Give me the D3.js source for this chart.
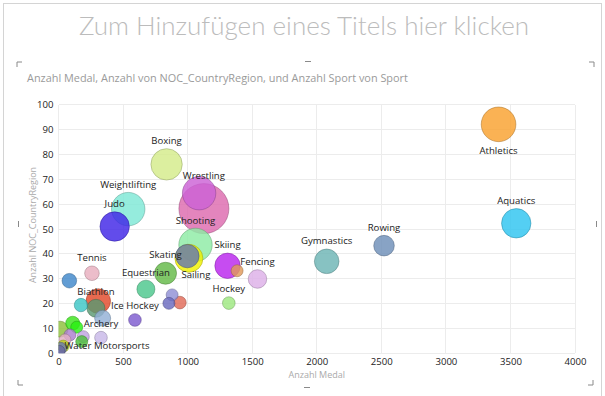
<!DOCTYPE html>
<html>
<head>
<meta charset="utf-8">
<script src="https://cdn.jsdelivr.net/npm/d3@7"></script>
<style>
  body { margin: 0; background: #fff; }
  svg { font-family: "Segoe UI", "Open Sans", "Noto Sans", sans-serif; }
</style>
</head>
<body>
<svg id="chart" width="605" height="396"></svg>
<script>
const SIZE = { width: 605, height: 396 };
const PLOT = { left: 58.5, right: 575, top: 104.7, bottom: 353.3 };

// one entry per sport
const sports = [
  "Athletics", "Aquatics", "Rowing", "Gymnastics", "Boxing", "Cycling", "Wrestling",
  "Weightlifting", "Judo", "Shooting", "Canoe / Kayak", "Sailing", "Skiing",
  "Modern Pentathlon", "Fencing", "Hockey", "Equestrian", "Skating", "Tennis",
  "Football", "Basketball", "Biathlon", "Bobsleigh", "Ice Hockey", "Volleyball",
  "Archery", "Table Tennis", "Badminton", "Luge", "Taekwondo", "Triathlon",
  "Snowboard", "Curling", "Baseball", "Softball", "Rugby", "Polo", "Tug of War",
  "Water Motorsports"
];
const medals = [
  3408, 3545, 2521, 2077, 837, 1089, 1126,
  540, 435, 1061, 998, 1010, 1309,
  1383, 1541, 1319, 677, 829, 259,
  84, 308, 290, 174, 592, 342,
  329, 880, 855, 940, 12, 110,
  141, 89, 50, 192, 180, 37, 17,
  4
];
const countries = [
  92.1, 52.3, 43.3, 37, 76, 64.4, 58.2,
  58, 51, 43.6, 39.1, 38.2, 35.2,
  33.2, 29.9, 20.2, 25.8, 32.2, 32.2,
  29.2, 21, 18.1, 19.4, 13.4, 14.1,
  6.3, 23.5, 20.1, 20.4, 9.7, 12.1,
  10.5, 7.4, 5.4, 6.7, 4.7, 2.9, 2,
  0.8
];
const sportCount = [
  300, 216, 106, 151, 246, 279, 625,
  279, 216, 279, 137, 196, 161,
  36, 86, 40, 81, 121, 53,
  53, 151, 81, 45, 40, 64,
  40, 36, 36, 40, 64, 49,
  36, 36, 36, 36, 36, 36, 36,
  36
];
const xTicks = [0, 500, 1000, 1500, 2000, 2500, 3000, 3500, 4000];
const yTicks = [0, 10, 20, 30, 40, 50, 60, 70, 80, 90, 100];
const labelled = [
  "Athletics", "Aquatics", "Rowing", "Gymnastics", "Boxing", "Wrestling",
  "Weightlifting", "Judo", "Shooting", "Sailing", "Skiing", "Fencing", "Hockey",
  "Equestrian", "Skating", "Tennis", "Biathlon", "Ice Hockey", "Archery",
  "Water Motorsports"
];

const palette = [
  "#f9a12e", "#2ec4f0", "#6e8fb8", "#6db5b5", "#d4ec8a", "#cc62d6", "#dd6aae",
  "#7ee8d6", "#3f25e6", "#8deba5", "#6677b0", "#f0f000", "#ba25ee",
  "#e09a5a", "#ddb0e8", "#9de880", "#4cc78c", "#64ba48", "#e8aebe",
  "#3f87ca", "#e2492a", "#5a9872", "#3cc6c6", "#7e5cd0", "#92b0d6",
  "#c8b8e8", "#9090d6", "#6a6abe", "#e06a58", "#8ec03c", "#3ce41c",
  "#2af012", "#ac7ed0", "#e2aec2", "#bea2e0", "#4cc03a", "#bcd01a", "#6a7aae",
  "#6a6aa0"
];

// label placement exceptions (default: centred above the bubble)
const labelShift = {
  "Athletics": { below: true, dx: 0, dy: 0 },
  "Sailing": { below: true, dx: 7, dy: -7 },
  "Water Motorsports": { below: false, dx: 48, dy: 8 }
};

const svg = d3.select("#chart");

// sheet frame
svg.append("rect")
  .attr("x", 3.5).attr("y", 3.5)
  .attr("width", SIZE.width - 7).attr("height", SIZE.height + 10)
  .attr("fill", "none").attr("stroke", "#d4d4d4");

svg.append("text")
  .attr("x", 304).attr("y", 35)
  .attr("text-anchor", "middle")
  .attr("font-family", "Lato, 'Open Sans', sans-serif")
  .attr("font-weight", 300)
  .attr("font-size", 26)
  .attr("fill", "#bcbcbc")
  .text("Zum Hinzufügen eines Titels hier klicken");

svg.append("text")
  .attr("x", 27).attr("y", 82)
  .attr("font-size", 10.9)
  .attr("fill", "#9a9a9a")
  .text("Anzahl Medal, Anzahl von NOC_CountryRegion, und Anzahl Sport von Sport");

// selection handles of the chart frame
const handles = [
  [17, 62, 1, 1], [594, 62, -1, 1], [18, 385, 1, -1], [593, 385, -1, -1]
];
handles.forEach(([hx, hy, sx, sy]) => {
  svg.append("path")
    .attr("d", `M${hx + sx * 5},${hy}H${hx}V${hy + sy * 5}`)
    .attr("fill", "none").attr("stroke", "#8a8a8a");
});
svg.append("path").attr("d", "M305,61.5H311").attr("stroke", "#8a8a8a");
svg.append("path").attr("d", "M304,387.5H310").attr("stroke", "#8a8a8a");
svg.append("path").attr("d", "M18.5,221V227").attr("stroke", "#8a8a8a");
svg.append("path").attr("d", "M596.5,221V227").attr("stroke", "#8a8a8a");

const x = d3.scaleLinear().domain([0, 4000]).range([PLOT.left, PLOT.right]);
const y = d3.scaleLinear().domain([0, 100]).range([PLOT.bottom, PLOT.top]);
const r = d3.scaleSqrt().domain([0, d3.max(sportCount)]).range([0, 25]);

// grid
const grid = svg.append("g").attr("stroke", "#ececec").attr("shape-rendering", "crispEdges");
grid.selectAll(".gx").data(xTicks).join("line")
  .attr("x1", d => x(d)).attr("x2", d => x(d))
  .attr("y1", PLOT.top).attr("y2", PLOT.bottom);
grid.selectAll(".gy").data(yTicks).join("line")
  .attr("y1", d => y(d)).attr("y2", d => y(d))
  .attr("x1", PLOT.left).attr("x2", PLOT.right);

const xAxis = d3.axisBottom(x).tickValues(xTicks).tickFormat(d3.format("d")).tickSize(0).tickPadding(5);
const yAxis = d3.axisLeft(y).tickValues(yTicks).tickFormat(d3.format("d")).tickSize(0).tickPadding(5);

svg.append("g")
  .attr("transform", `translate(0,${PLOT.bottom})`)
  .call(xAxis)
  .call(g => g.select(".domain").remove())
  .selectAll("text").attr("font-size", 9.6).attr("fill", "#222")
  .attr("font-family", "'Segoe UI', 'Open Sans', sans-serif");

svg.append("g")
  .attr("transform", `translate(${PLOT.left},0)`)
  .call(yAxis)
  .call(g => g.select(".domain").remove())
  .selectAll("text").attr("font-size", 9.6).attr("fill", "#222")
  .attr("font-family", "'Segoe UI', 'Open Sans', sans-serif");

svg.append("text")
  .attr("x", (PLOT.left + PLOT.right) / 2).attr("y", 378)
  .attr("text-anchor", "middle")
  .attr("font-size", 9).attr("fill", "#aaa")
  .text("Anzahl Medal");

svg.append("text")
  .attr("transform", `translate(36,${(PLOT.top + PLOT.bottom) / 2 - 4}) rotate(-90)`)
  .attr("text-anchor", "middle")
  .attr("font-size", 9).attr("fill", "#aaa")
  .text("Anzahl NOC_CountryRegion");

const rows = sports.map((s, i) => ({
  sport: s, medal: medals[i], noc: countries[i], size: sportCount[i], color: palette[i]
}));

svg.append("clipPath").attr("id", "plot-clip")
  .append("rect")
  .attr("x", PLOT.left).attr("y", PLOT.top - 30)
  .attr("width", PLOT.right - PLOT.left + 30).attr("height", PLOT.bottom - PLOT.top + 30);

const bubbles = svg.append("g").attr("clip-path", "url(#plot-clip)");
bubbles.selectAll("circle")
  .data(rows.slice().sort((a, b) => b.size - a.size))
  .join("circle")
  .attr("cx", d => x(d.medal))
  .attr("cy", d => y(d.noc))
  .attr("r", d => r(d.size))
  .attr("fill", d => d.color)
  .attr("fill-opacity", 0.82)
  .attr("stroke", d => d3.color(d.color).darker(1.2))
  .attr("stroke-opacity", 0.6)
  .attr("stroke-width", 0.8);

svg.append("g")
  .selectAll("text")
  .data(rows.filter(d => labelled.includes(d.sport)))
  .join("text")
  .attr("x", d => x(d.medal) + (labelShift[d.sport] ? labelShift[d.sport].dx : 0))
  .attr("y", d => {
    const s = labelShift[d.sport];
    const base = s && s.below ? y(d.noc) + r(d.size) + 9 : y(d.noc) - r(d.size) - 8;
    return base + (s ? s.dy : 0);
  })
  .attr("dy", "0.35em")
  .attr("text-anchor", "middle")
  .attr("font-size", 9.6)
  .attr("fill", "#222")
  .text(d => d.sport);
</script>
</body>
</html>
